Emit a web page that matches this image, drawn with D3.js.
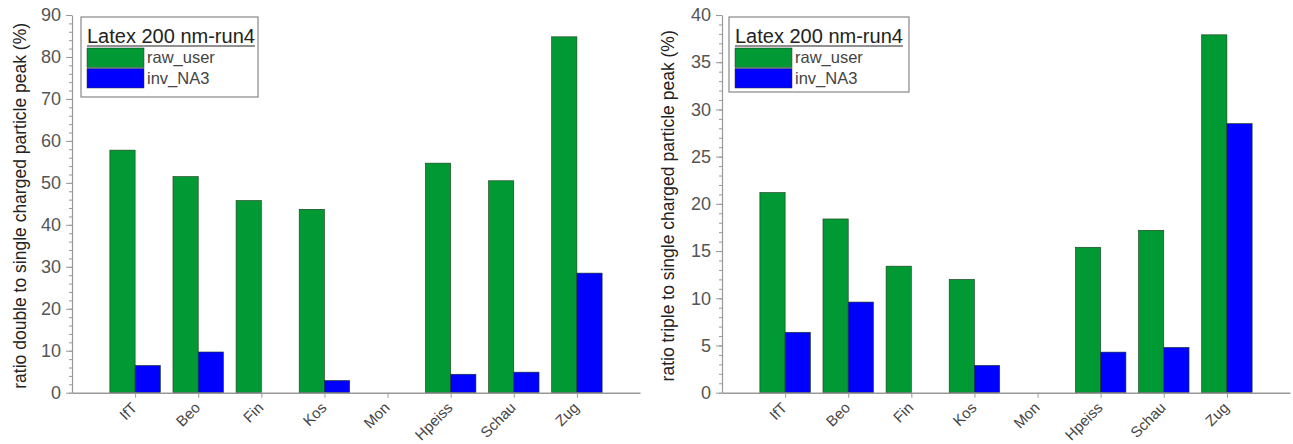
<!DOCTYPE html>
<html>
<head>
<meta charset="utf-8">
<script src="https://cdn.jsdelivr.net/npm/d3@7"></script>
<style>
  html, body { margin: 0; padding: 0; background: #fff; }
  svg { display: block; font-family: "Liberation Sans", Arial, sans-serif; }
</style>
</head>
<body>
<svg id="chart" width="1293" height="444"></svg>
<script>
// Sites along the category axis
const sites = ["IfT", "Beo", "Fin", "Kos", "Mon", "Hpeiss", "Schau", "Zug"];

// Double-to-single charged particle peak ratio (%)
const doubleRawUser = [57.8, 51.5, 45.8, 43.7, 0, 54.7, 50.5, 84.8];
const doubleInvNA3  = [6.5, 9.7, 0, 2.9, 0, 4.4, 4.9, 28.5];

// Triple-to-single charged particle peak ratio (%)
const tripleRawUser = [21.2, 18.4, 13.4, 12.0, 0, 15.4, 17.2, 37.9];
const tripleInvNA3  = [6.4, 9.6, 0, 2.9, 0, 4.3, 4.8, 28.5];

const seriesNames = ["raw_user", "inv_NA3"];
const seriesColors = ["#009933", "#0000ff"];
const legendTitle = "Latex 200 nm-run4";

const doubleTicks = [0, 10, 20, 30, 40, 50, 60, 70, 80, 90];
const tripleTicks = [0, 5, 10, 15, 20, 25, 30, 35, 40];

const svg = d3.select("#chart");
const defs = svg.append("defs");
const c45 = Math.SQRT1_2;

function panel(opts) {
  const g = svg.append("g");
  const x = d3.scaleLinear().domain([0, sites.length + 1]).range([opts.x0, opts.x1]);
  const y = d3.scaleLinear().domain([0, opts.yMax]).range([opts.yBottom, opts.yTop]);
  const step = x(1) - x(0);
  const barW = step * 0.4;

  // bars: first series left of the tick, second series right of it
  const series = [opts.raw, opts.inv];
  series.forEach((vals, si) => {
    g.append("g").selectAll("rect")
      .data(vals.map((v, i) => ({ v, i })).filter(d => d.v > 0))
      .join("rect")
      .attr("x", d => x(d.i + 1) + (si === 0 ? -barW : 0))
      .attr("width", barW)
      .attr("y", d => y(d.v))
      .attr("height", d => y(0) - y(d.v))
      .attr("fill", seriesColors[si])
      .attr("stroke", "#1a3a1a")
      .attr("stroke-width", 0.6);
  });

  // y axis: minor ticks then major ticks with labels
  const minor = d3.range(0, opts.yMax + 1e-9, opts.minorStep);
  g.append("g")
    .attr("transform", `translate(${opts.x0},0)`)
    .call(d3.axisLeft(y).tickValues(minor).tickSize(3).tickFormat(""))
    .call(a => a.select(".domain").remove())
    .call(a => a.selectAll("line").attr("stroke", "#999"));
  const yAxis = g.append("g")
    .attr("transform", `translate(${opts.x0},0)`)
    .call(d3.axisLeft(y).tickValues(opts.ticks).tickSize(6).tickSizeOuter(0).tickPadding(5));
  yAxis.select(".domain").attr("stroke", "#999").attr("stroke-width", 1.2);
  yAxis.selectAll("line").attr("stroke", "#999");
  yAxis.selectAll("text").attr("fill", "#555").style("font-size", "18px");

  // x axis ticks
  const cats = d3.range(1, sites.length + 1);
  const xAxis = g.append("g")
    .attr("transform", `translate(0,${opts.yBottom})`)
    .call(d3.axisBottom(x).tickValues(cats).tickSize(5).tickSizeOuter(0).tickFormat(""));
  xAxis.select(".domain").attr("stroke", "#999").attr("stroke-width", 1.5);
  xAxis.selectAll("line").attr("stroke", "#999");

  // site labels run along 45-degree guide paths ending just below each tick
  const L = 90;
  defs.selectAll(null)
    .data(cats)
    .join("path")
    .attr("id", d => `${opts.id}-lab-${d}`)
    .attr("d", d => {
      const ex = x(d) + 3, ey = opts.yBottom + 16;
      return `M${ex - L * c45},${ey + L * c45}L${ex},${ey}`;
    });
  g.append("g").selectAll("text")
    .data(cats)
    .join("text")
    .style("font-size", "15px")
    .attr("fill", "#444")
    .append("textPath")
    .attr("href", d => `#${opts.id}-lab-${d}`)
    .attr("startOffset", "100%")
    .attr("text-anchor", "end")
    .text(d => sites[d - 1]);

  // y axis title
  g.append("text")
    .attr("transform", `translate(${opts.titleX},${(opts.yTop + opts.yBottom) / 2 + 2}) rotate(-90)`)
    .attr("text-anchor", "middle")
    .attr("dy", "0.35em")
    .style("font-size", "17.5px")
    .attr("fill", "#222")
    .text(opts.title);

  // legend
  const lg = g.append("g").attr("transform", `translate(${opts.legX},17)`);
  lg.append("rect")
    .attr("width", opts.legW).attr("height", opts.legH)
    .attr("fill", "#fff").attr("stroke", "#888").attr("stroke-width", 1.2);
  const t = lg.append("text")
    .attr("x", 6).attr("y", 26)
    .style("font-size", "20px")
    .attr("fill", "#222")
    .text(legendTitle);
  const tw = t.node().getComputedTextLength();
  lg.append("line")
    .attr("x1", 6).attr("x2", 6 + tw)
    .attr("y1", 29).attr("y2", 29)
    .attr("stroke", "#222").attr("stroke-width", 1.2);
  seriesNames.forEach((name, i) => {
    lg.append("rect")
      .attr("x", 6).attr("y", 31 + i * 20.5)
      .attr("width", 57).attr("height", 19.5)
      .attr("fill", seriesColors[i])
      .attr("stroke", "#333").attr("stroke-width", 0.5);
    lg.append("text")
      .attr("x", 66).attr("y", 46 + i * 20.5)
      .style("font-size", "16.5px")
      .attr("fill", "#444")
      .text(name);
  });
}

panel({
  id: "dbl", x0: 72, x1: 640, yTop: 15, yBottom: 392.7, yMax: 90,
  ticks: doubleTicks, minorStep: 2,
  raw: doubleRawUser, inv: doubleInvNA3,
  title: "ratio double to single charged particle peak (%)", titleX: 20,
  legX: 81, legW: 177, legH: 80
});

panel({
  id: "tpl", x0: 722, x1: 1290, yTop: 15, yBottom: 392.7, yMax: 40,
  ticks: tripleTicks, minorStep: 1,
  raw: tripleRawUser, inv: tripleInvNA3,
  title: "ratio triple to single charged particle peak (%)", titleX: 668,
  legX: 729, legW: 180, legH: 75
});
</script>
</body>
</html>
